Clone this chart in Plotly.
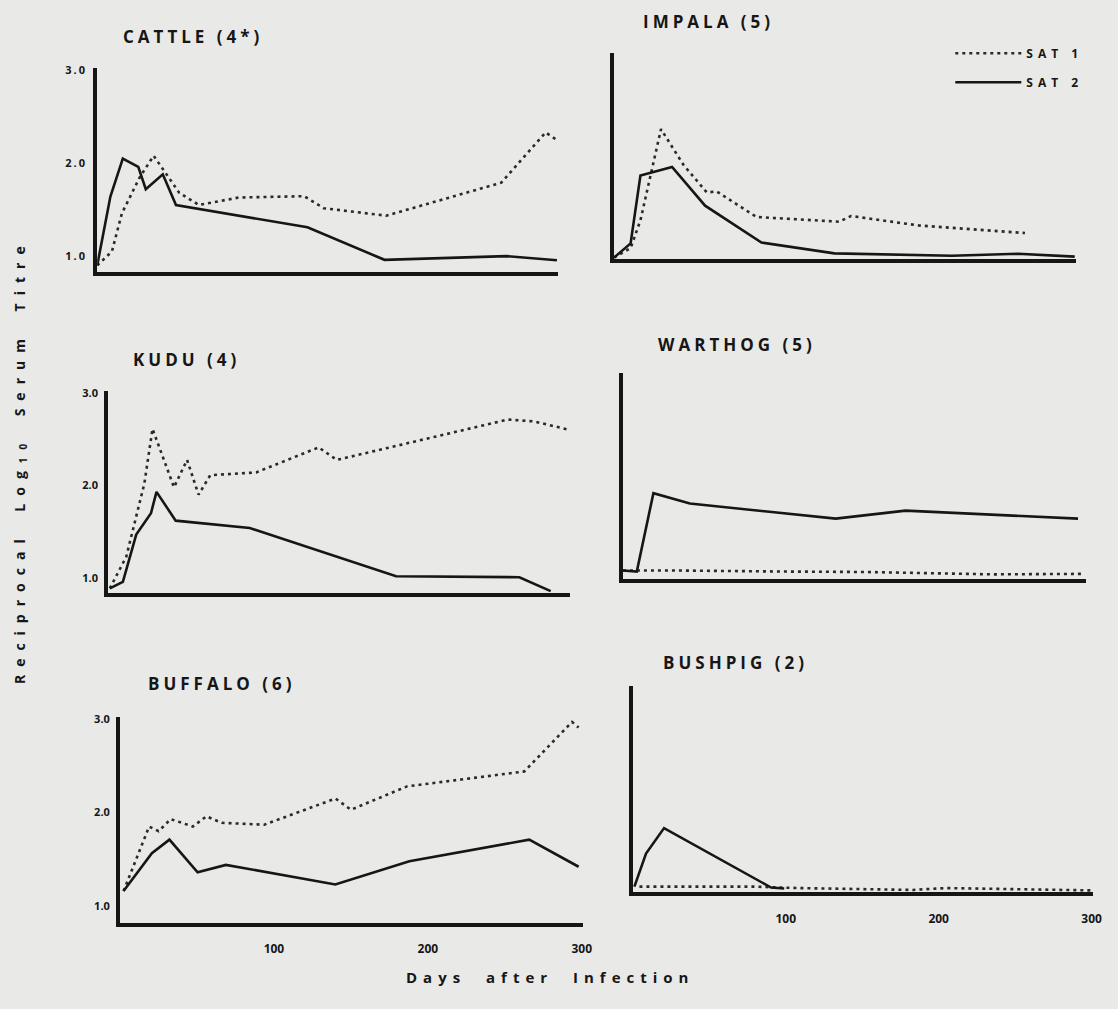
import plotly.graph_objects as go

W, H = 1118, 1009

# ---------------- data (days after infection, reciprocal log10 serum titre) -------------
panel_names = ["CATTLE (4*)", "IMPALA (5)", "KUDU (4)", "WARTHOG (5)", "BUFFALO (6)", "BUSHPIG (2)"]

cattle_sat1_days = [0, 9.6, 16.1, 27.8, 36.8, 53.6, 66.4, 92.2, 135, 147.9, 188.6, 263.7, 292.6, 299]
cattle_sat1 = [0.90, 1.05, 1.46, 1.85, 2.08, 1.68, 1.55, 1.63, 1.645, 1.515, 1.435, 1.79, 2.33, 2.26]
cattle_sat2_days = [0, 8.6, 16.7, 26.8, 31.7, 42.8, 51.4, 137.2, 187.5, 266.9, 300]
cattle_sat2 = [0.90, 1.64, 2.05, 1.96, 1.72, 1.88, 1.55, 1.31, 0.96, 1.00, 0.955]

impala_sat1_days = [0, 10.8, 17.2, 30.6, 45.3, 60.4, 66.9, 92.8, 146.7, 154.3, 198.5, 267.6]
impala_sat1 = [0.85, 0.95, 1.245, 2.21, 1.83, 1.54, 1.55, 1.28, 1.23, 1.29, 1.19, 1.11]
impala_sat2_days = [0, 10.8, 17.2, 37.8, 59.3, 96, 143.5, 220, 263, 300]
impala_sat2 = [0.85, 1.00, 1.72, 1.81, 1.40, 1.01, 0.895, 0.87, 0.89, 0.86]

kudu_sat1_days = [1.1, 11.8, 23.6, 28.9, 42.9, 51.4, 58.9, 66.5, 96.4, 137.1, 148.9, 196, 260.3, 277.4, 298.8]
kudu_sat1 = [0.89, 1.23, 2.02, 2.61, 1.98, 2.275, 1.90, 2.11, 2.14, 2.41, 2.275, 2.46, 2.71, 2.69, 2.605]
kudu_sat2_days = [1.1, 9.6, 18.3, 27.9, 31.5, 44, 92.2, 187.5, 267.8, 288.2]
kudu_sat2 = [0.89, 0.96, 1.47, 1.70, 1.93, 1.62, 1.54, 1.02, 1.01, 0.86]

warthog_sat1_days = [0, 40, 101.7, 157.7, 240, 298]
warthog_sat1 = [0.93, 0.93, 0.92, 0.915, 0.89, 0.895]
warthog_sat2_days = [0, 9, 19.8, 43.5, 138.3, 183.6, 295.7]
warthog_sat2 = [0.93, 0.92, 1.75, 1.64, 1.48, 1.565, 1.48]

buffalo_sat1_days = [2.3, 18.9, 25.1, 32.9, 47.3, 56.1, 66.1, 93.7, 140, 150, 186.5, 262.7, 293.7, 298]
buffalo_sat1 = [1.16, 1.85, 1.80, 1.93, 1.85, 1.96, 1.89, 1.87, 2.15, 2.03, 2.28, 2.44, 2.97, 2.91]
buffalo_sat2_days = [2.3, 20.7, 32.1, 50.4, 68.8, 139.9, 188, 265.9, 298]
buffalo_sat2 = [1.16, 1.565, 1.71, 1.36, 1.44, 1.23, 1.48, 1.71, 1.42]

bushpig_sat1_days = [4.3, 79.6, 107.6, 183, 204.5, 300]
bushpig_sat1 = [0.90, 0.90, 0.885, 0.865, 0.885, 0.86]
bushpig_sat2_days = [1, 8.6, 20.4, 90.4, 99]
bushpig_sat2 = [0.90, 1.25, 1.52, 0.89, 0.88]

y_tick_vals = [1.0, 2.0, 3.0]
y_tick_text = ["1.0", "2.0", "3.0"]
x_tick_vals = [100, 200, 300]
x_tick_text = ["100", "200", "300"]

series = [
    (cattle_sat1_days, cattle_sat1, cattle_sat2_days, cattle_sat2),
    (impala_sat1_days, impala_sat1, impala_sat2_days, impala_sat2),
    (kudu_sat1_days, kudu_sat1, kudu_sat2_days, kudu_sat2),
    (warthog_sat1_days, warthog_sat1, warthog_sat2_days, warthog_sat2),
    (buffalo_sat1_days, buffalo_sat1, buffalo_sat2_days, buffalo_sat2),
    (bushpig_sat1_days, bushpig_sat1, bushpig_sat2_days, bushpig_sat2),
]

# ---------------- layout geometry (pixels) -------------
# left px, right px, bottom px, y-min, px per unit
geom = [
    (98, 563, 267.5, 0.83, 93.5),
    (619, 1085, 255.0, 0.83, 95.0),
    (109, 575, 590.5, 0.84, 93.3),
    (628, 1095, 576.5, 0.84, 95.0),
    (121, 588, 922.3, 0.82, 94.0),
    (638, 1102, 891.6, 0.84, 95.0),
]
YMAX = 3.02
title_pos = [(195, 31), (714, 16), (188, 356), (743, 341), (224, 682), (741, 660)]

BG = "#e9e9e7"
INK = "#161616"
FONT = "Open Sans"

fig = go.Figure()
layout = dict(
    width=W, height=H, margin=dict(l=0, r=0, t=0, b=0),
    paper_bgcolor=BG, plot_bgcolor=BG,
    font=dict(family=FONT, color=INK),
    annotations=[],
)

for i, (g, s) in enumerate(zip(geom, series)):
    left, right, bottom, ymin, ppu = g
    top = bottom - (YMAX - ymin) * ppu
    n = "" if i == 0 else str(i + 1)
    xa, ya = "x" + n, "y" + n
    d1, v1, d2, v2 = s
    show = (i == 1)
    fig.add_trace(go.Scatter(x=d1, y=v1, mode="lines", name="SAT 1", legendgroup="s1",
                             showlegend=show, xaxis=xa, yaxis=ya,
                             line=dict(color="#2a2a2a", width=2.6, dash="3px,4px")))
    fig.add_trace(go.Scatter(x=d2, y=v2, mode="lines", name="SAT 2", legendgroup="s2",
                             showlegend=show, xaxis=xa, yaxis=ya,
                             line=dict(color=INK, width=2.6)))
    left_col = (i % 2 == 0)
    bottom_row = (i >= 4)
    layout["xaxis" + n] = dict(
        domain=[left / W, right / W], anchor=ya, range=[0, 301],
        showgrid=False, zeroline=False, showline=True, linewidth=4, linecolor=INK,
        ticks="", tickvals=x_tick_vals, ticktext=x_tick_text, showticklabels=bottom_row,
        tickfont=dict(family=FONT, size=12, weight="bold", color=INK), ticklabelstandoff=12,
        fixedrange=True,
    )
    layout["yaxis" + n] = dict(
        domain=[1 - bottom / H, 1 - top / H], anchor=xa, range=[ymin, YMAX],
        showgrid=False, zeroline=False, showline=True, linewidth=4, linecolor=INK,
        ticks="", tickvals=y_tick_vals, ticktext=y_tick_text, showticklabels=left_col,
        tickfont=dict(family=FONT, size=11, weight="bold", color=INK), ticklabelstandoff=4,
        fixedrange=True,
    )
    tx, ty = title_pos[i]
    layout["annotations"].append(dict(
        text=panel_names[i], x=tx / W, y=1 - ty / H, xref="paper", yref="paper",
        xanchor="center", yanchor="middle", showarrow=False,
        font=dict(family=FONT, size=17, weight="bold", color=INK)))

layout["annotations"].append(dict(
    text="Days after Infection", x=554 / W, y=1 - 977 / H, xref="paper", yref="paper",
    xanchor="center", yanchor="middle", showarrow=False,
    font=dict(family=FONT, size=15, weight="bold", color=INK)))
layout["annotations"].append(dict(
    text="Reciprocal Log<sub>10</sub> Serum Titre", x=20 / W, y=1 - 458 / H,
    xref="paper", yref="paper", xanchor="center", yanchor="middle", textangle=-90,
    showarrow=False, font=dict(family=FONT, size=14, weight="bold", color=INK)))

layout["legend"] = dict(
    x=958 / W, y=1 - 33 / H, xanchor="left", yanchor="top",
    bgcolor="rgba(0,0,0,0)", traceorder="grouped", tracegroupgap=10,
    font=dict(family=FONT, size=12, weight="bold", color=INK), itemwidth=66,
)
layout["showlegend"] = True

fig.update_layout(**layout)

post = """
var gd = document.getElementById('{plot_id}');
function sp(){
  gd.querySelectorAll('.annotation-text').forEach(function(t){
    var s = t.textContent || '';
    if (s.indexOf('Days') === 0) { t.style.letterSpacing = '6px'; t.style.wordSpacing = '10px'; }
    else if (s.indexOf('Reciprocal') === 0) { t.style.letterSpacing = '8px'; t.style.wordSpacing = '8px'; }
    else { t.style.letterSpacing = '4px'; }
  });
  gd.querySelectorAll('.legend .scrollbox').forEach(function(e){ e.removeAttribute('clip-path'); });
  gd.querySelectorAll('.legendtext').forEach(function(t){ t.style.letterSpacing = '5px'; });
  gd.querySelectorAll('.ytick text, .xtick text').forEach(function(t){ t.style.letterSpacing = '2px'; });
}
sp();
gd.on('plotly_afterplot', sp);
"""
fig.write_html("out.html", post_script=post, config={"displayModeBar": False})
